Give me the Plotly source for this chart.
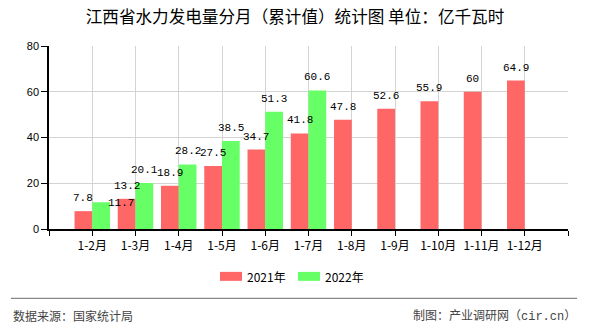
import plotly.graph_objects as go

# Monthly cumulative hydropower output, Jiangxi (100 million kWh)
categories = ["1-2月", "1-3月", "1-4月", "1-5月", "1-6月", "1-7月",
              "1-8月", "1-9月", "1-10月", "1-11月", "1-12月"]
series_names = ["2021年", "2022年"]
values_2021 = [7.8, 13.2, 18.9, 27.5, 34.7, 41.8, 47.8, 52.6, 55.9, 60, 64.9]
values_2022 = [11.7, 20.1, 28.2, 38.5, 51.3, 60.6]
y_ticks = [0, 20, 40, 60, 80]

# ---- styling ----
W, H = 590, 330
L, R, T, B = 49, 22, 46, 100.5
RED, GREEN = "#ff6666", "#66ff66"
BAR_W = 0.41
CJK = "Noto Sans CJK SC"
MONO = "Liberation Mono"
# label nudges (series index, point index) -> (dx, dy) in px
label_nudge = {(1, 0): (20, -14)}

plot_w = W - L - R
plot_h = H - T - B


def px_x(px):
    return (px - L) / plot_w


def px_y(py):
    return (H - B - py) / plot_h


fig = go.Figure()
series = [values_2021, values_2022]
colors = [RED, GREEN]
offsets = [-BAR_W, 0.0]
xs_all = list(range(1, len(categories) + 1))

for si, (name, vals, col, off) in enumerate(zip(series_names, series, colors, offsets)):
    xs = xs_all[:len(vals)]
    fig.add_trace(go.Bar(
        x=xs, y=vals, name=name, marker=dict(color=col, line=dict(width=0)),
        width=BAR_W, offset=off, showlegend=False,
    ))
    for pi, (x, v) in enumerate(zip(xs, vals)):
        dx, dy = label_nudge.get((si, pi), (0, 0))
        fig.add_annotation(
            x=x + off + BAR_W / 2, y=v, xref="x", yref="y",
            text=f"{v:g}", showarrow=False, yanchor="middle",
            yshift=13 + dy, xshift=dx,
            font=dict(family=MONO, size=11, color="#000"),
        )

# legend drawn as swatches + labels
legend_items = [(220, RED, series_names[0]), (298, GREEN, series_names[1])]
for x0, col, name in legend_items:
    fig.add_shape(type="rect", xref="paper", yref="paper",
                  x0=px_x(x0), x1=px_x(x0 + 22), y0=px_y(281.5), y1=px_y(272.5),
                  fillcolor=col, line=dict(width=0))
    fig.add_annotation(xref="paper", yref="paper", x=px_x(x0 + 25), y=px_y(277),
                       text=name, showarrow=False, xanchor="left", yanchor="middle",
                       font=dict(family=CJK, size=12, color="#000"))

# footer separator and source notes
fig.add_shape(type="line", xref="paper", yref="paper",
              x0=px_x(11), x1=px_x(577), y0=px_y(299), y1=px_y(299),
              line=dict(color="#888888", width=1.2))
fig.add_annotation(xref="paper", yref="paper", x=px_x(11), y=px_y(316),
                   text="数据来源：国家统计局", showarrow=False,
                   xanchor="left", yanchor="middle",
                   font=dict(family=CJK, size=12, color="#444"))
fig.add_annotation(xref="paper", yref="paper", x=px_x(578), y=px_y(316),
                   text="制图：产业调研网（<span style='font-family:Liberation Mono'>cir.cn</span>）",
                   showarrow=False, xanchor="right", yanchor="middle",
                   font=dict(family=CJK, size=12, color="#444"))

tickvals = [0] + xs_all + [len(categories) + 1]
ticktext = [""] + categories + [""]

fig.update_layout(
    width=W, height=H,
    margin=dict(l=L, r=R, t=T, b=B, pad=0),
    paper_bgcolor="white", plot_bgcolor="white",
    title=dict(text="江西省水力发电量分月（累计值）统计图 单位：亿千瓦时",
               x=0.5, xanchor="center", y=1 - 17 / H, yanchor="middle",
               font=dict(family=CJK, size=16.6, color="#000")),
    xaxis=dict(range=[0, len(categories) + 1], tickmode="array",
               tickvals=tickvals, ticktext=ticktext,
               showgrid=True, gridcolor="#d3d3d3", gridwidth=1,
               showline=True, linecolor="#000", linewidth=1.5,
               ticks="outside", ticklen=5, tickcolor="#000",
               tickfont=dict(family=CJK, size=12, color="#000"),
               zeroline=False, fixedrange=True),
    yaxis=dict(range=[0, 80], tickmode="array", tickvals=y_ticks,
               showgrid=True, gridcolor="#d3d3d3", gridwidth=1,
               showline=True, linecolor="#000", linewidth=1.5,
               ticks="outside", ticklen=6, tickcolor="#000",
               tickfont=dict(family="Liberation Sans", size=11, color="#000"),
               zeroline=False, fixedrange=True),
    showlegend=False,
)

fig.write_html("out.html", config={"displayModeBar": False})
